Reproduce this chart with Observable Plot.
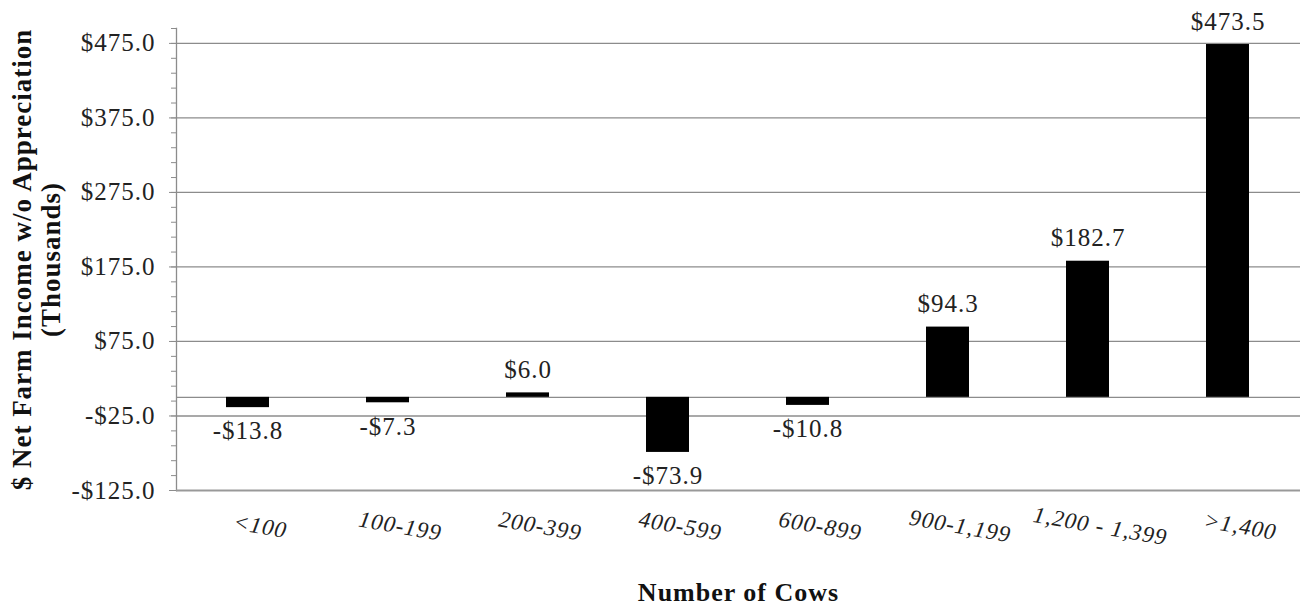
<!DOCTYPE html>
<html>
<head>
<meta charset="utf-8">
<script src="https://cdn.jsdelivr.net/npm/d3@7"></script>
<script src="https://cdn.jsdelivr.net/npm/@observablehq/plot@0.6"></script>
<style>
  html, body { margin: 0; padding: 0; background: #fff; }
  #chart svg { display: block; }
  #chart svg text { letter-spacing: 1px; }
</style>
</head>
<body>
<div id="chart"></div>
<script>
const categories = ["<100", "100-199", "200-399", "400-599", "600-899", "900-1,199", "1,200 - 1,399", ">1,400"];
const values = [-13.8, -7.3, 6.0, -73.9, -10.8, 94.3, 182.7, 473.5];
const majorTicks = [-125, -25, 75, 175, 275, 375, 475];
const minorTicks = d3.range(-125, 496, 20);
const yTitle = "$ Net Farm Income w/o Appreciation\n(Thousands)";
const xTitle = "Number of Cows";

const data = categories.map((c, i) => ({category: c, value: values[i]}));
const money = d => (d < 0 ? "-$" : "$") + Math.abs(d).toFixed(1);
const grid = "#8c8c8c";
const serif = "'Liberation Serif', 'Times New Roman', serif";

const chart = Plot.plot({
  width: 1315,
  height: 609,
  marginLeft: 176,
  marginRight: 15,
  marginTop: 28,
  marginBottom: 119,
  style: {fontFamily: serif, fontSize: "24px", color: "#000", background: "#fff"},
  x: {domain: categories, paddingInner: 0.69, paddingOuter: 0.345, axis: null},
  y: {domain: [-125, 495], axis: null},
  marks: [
    Plot.ruleY(majorTicks.filter(d => d > -125), {stroke: grid, strokeWidth: 1.3}),
    Plot.ruleY([0], {stroke: grid, strokeWidth: 1.3}),
    Plot.axisY(minorTicks, {tickSize: 5, tickFormat: () => "", stroke: grid, label: null}),
    Plot.axisY(majorTicks, {tickSize: 7, tickPadding: 14, tickFormat: money, stroke: grid, fill: "#222", fontSize: 25, label: null}),
    Plot.frame({anchor: "left", stroke: grid, strokeWidth: 1.3}),
    Plot.ruleY([-125], {stroke: "#999", strokeWidth: 2.2}),
    Plot.barY(data, {x: "category", y: "value", fill: "#000"}),
    Plot.text(data.filter(d => d.value >= 0), {x: "category", y: "value", text: d => money(d.value), lineAnchor: "bottom", dy: -15, fontSize: 25, fill: "#222"}),
    Plot.text(data.filter(d => d.value < 0), {x: "category", y: "value", text: d => money(d.value), lineAnchor: "top", dy: 14, fontSize: 25, fill: "#222"}),
    Plot.text(categories, {x: d => d, text: d => d, frameAnchor: "bottom", dy: 43, dx: 11, rotate: 10, fontSize: 23, fontStyle: "italic", fill: "#222"}),
    Plot.text([yTitle], {frameAnchor: "left", textAnchor: "middle", dx: -140, rotate: -90, fontSize: 27, fontWeight: "bold", lineHeight: 1.05, fill: "#111"}),
    Plot.text([xTitle], {frameAnchor: "bottom", dy: 110, fontSize: 26, fontWeight: "bold", fill: "#111"})
  ]
});
document.getElementById("chart").appendChild(chart);
</script>
</body>
</html>
